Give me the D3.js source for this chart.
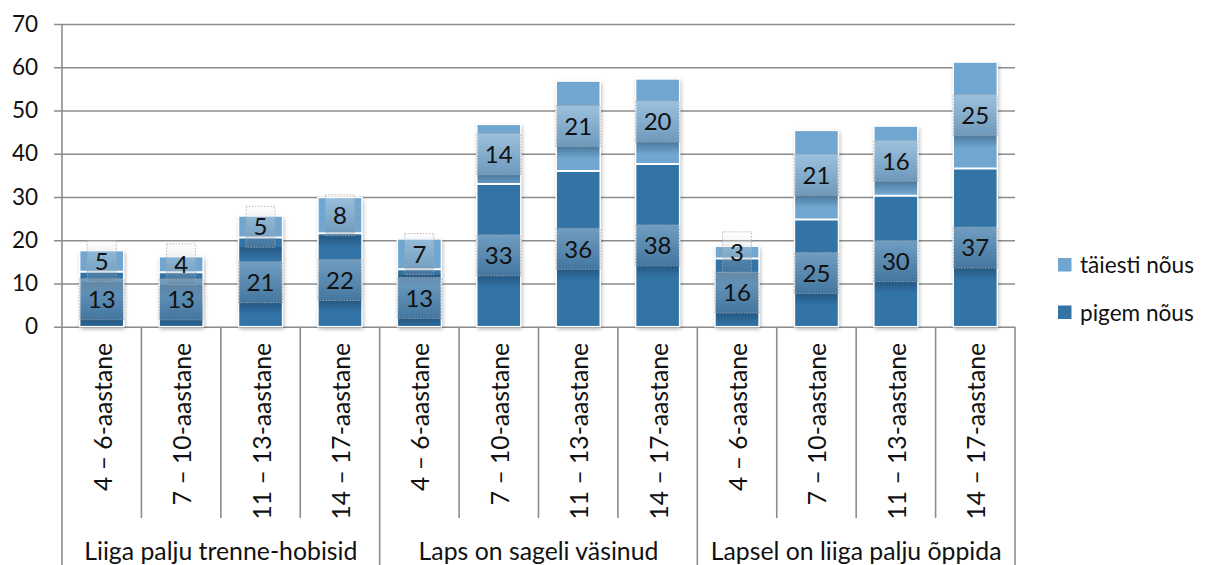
<!DOCTYPE html>
<html>
<head>
<meta charset="utf-8">
<script src="https://cdn.jsdelivr.net/npm/d3@7"></script>
<style>
  body { margin: 0; background: #fff; }
  svg { display: block; font-family: Lato, "Open Sans", sans-serif; }
</style>
</head>
<body>
<svg id="chart" width="1208" height="565"></svg>
<script>
const groups = ["Liiga palju trenne-hobisid", "Laps on sageli väsinud", "Lapsel on liiga palju õppida"];
const ages = ["4 – 6-aastane", "7 – 10-aastane", "11 – 13-aastane", "14 – 17-aastane"];
const pigem = [12.7, 12.6, 20.6, 21.6, 13.3, 33.0, 36.0, 37.6, 15.8, 24.8, 30.3, 36.6];
const taiesti = [4.9, 3.6, 5.0, 8.3, 7.0, 13.8, 20.8, 19.7, 2.8, 20.6, 16.1, 24.6];
const seriesNames = ["täiesti nõus", "pigem nõus"];
const yTicks = [0, 10, 20, 30, 40, 50, 60, 70];

const colDark = "#3374a7";
const colLight = "#70a6cf";

const svg = d3.select("#chart");
const defs = svg.append("defs");
const f = defs.append("filter").attr("id", "shadow").attr("x", "-20%").attr("y", "-20%").attr("width", "140%").attr("height", "140%");
f.append("feDropShadow").attr("dx", 1).attr("dy", 2).attr("stdDeviation", 2.2).attr("flood-color", "#000").attr("flood-opacity", 0.35);
const g1 = defs.append("linearGradient").attr("id", "shade").attr("x1", 0).attr("y1", 0).attr("x2", 0).attr("y2", 1);
g1.append("stop").attr("offset", "0%").attr("stop-color", "#0a2540").attr("stop-opacity", 0.35);
g1.append("stop").attr("offset", "100%").attr("stop-color", "#0a2540").attr("stop-opacity", 0);
const g2 = defs.append("linearGradient").attr("id", "boxfill").attr("x1", 0).attr("y1", 0).attr("x2", 0).attr("y2", 1);
g2.append("stop").attr("offset", "0%").attr("stop-color", "#ffffff").attr("stop-opacity", 0.3);
g2.append("stop").attr("offset", "100%").attr("stop-color", "#6a7a8c").attr("stop-opacity", 0.3);

const x0 = 62, x1 = 1015, yTop = 24, yBase = 326.7;
const pad = 0.445;
const n = pigem.length;
const x = d3.scaleBand().domain(d3.range(n)).range([x0, x1]).paddingInner(pad).paddingOuter(pad / 2);
const y = d3.scaleLinear().domain([0, 70]).range([yBase, yTop]);
const step = x.step();

// grid + y axis labels
const yAxis = d3.axisLeft(y).tickValues(yTicks).tickSize(-(x1 - 54)).tickPadding(16);
const ya = svg.append("g").attr("transform", "translate(54,0)").call(yAxis);
ya.select(".domain").remove();
ya.selectAll(".tick line").attr("stroke", "#8c8c8c").attr("stroke-width", 1.6);
ya.selectAll(".tick text").attr("font-size", 22.5).attr("fill", "#111").attr("font-family", "Lato, sans-serif");

// vertical axis line
svg.append("line").attr("x1", x0).attr("x2", x0).attr("y1", yTop).attr("y2", yBase)
  .attr("stroke", "#8c8c8c").attr("stroke-width", 1.6);

// category boundaries
d3.range(n + 1).forEach(i => {
  const bx = x.range()[0] + i * step;
  svg.append("line").attr("x1", bx).attr("x2", bx).attr("y1", yBase)
    .attr("y2", i % 4 === 0 ? 565 : 518)
    .attr("stroke", "#8c8c8c").attr("stroke-width", 1.6);
});

// bars
const bw = x.bandwidth();
const barG = svg.append("g");
d3.range(n).forEach(i => {
  const bx = x(i);
  const g = barG.append("g");
  const clipId = "clip" + i;
  defs.append("clipPath").attr("id", clipId).append("rect")
    .attr("x", bx).attr("y", y(pigem[i] + taiesti[i])).attr("width", bw).attr("height", y(0) - y(pigem[i] + taiesti[i]));
  g.append("rect").attr("x", bx).attr("y", y(pigem[i] + taiesti[i])).attr("width", bw)
    .attr("height", y(0) - y(pigem[i] + taiesti[i])).attr("fill", "#fff").attr("filter", "url(#shadow)");
  g.append("rect").attr("x", bx).attr("y", y(pigem[i])).attr("width", bw)
    .attr("height", y(0) - y(pigem[i])).attr("fill", colDark);
  g.append("rect").attr("x", bx).attr("y", y(pigem[i] + taiesti[i])).attr("width", bw)
    .attr("height", y(pigem[i]) - y(pigem[i] + taiesti[i])).attr("fill", colLight);
  // shades under labels
  [[0, pigem[i]], [pigem[i], pigem[i] + taiesti[i]]].forEach(([a, b]) => {
    const cy = (y(a) + y(b)) / 2;
    g.append("rect").attr("x", bx).attr("y", cy + 20.5).attr("width", bw).attr("height", 12)
      .attr("fill", "url(#shade)").attr("clip-path", "url(#" + clipId + ")");
  });
  // white outlines
  g.append("rect").attr("x", bx).attr("y", y(pigem[i] + taiesti[i])).attr("width", bw)
    .attr("height", y(0) - y(pigem[i] + taiesti[i])).attr("fill", "none").attr("stroke", "#fff").attr("stroke-width", 1.5);
  g.append("line").attr("x1", bx).attr("x2", bx + bw).attr("y1", y(pigem[i])).attr("y2", y(pigem[i]))
    .attr("stroke", "#fff").attr("stroke-width", 2);
});

// data labels
const labG = svg.append("g");
d3.range(n).forEach(i => {
  const cx = x(i) + bw / 2;
  [[0, pigem[i]], [pigem[i], pigem[i] + taiesti[i]]].forEach(([a, b]) => {
    const v = Math.round(b - a);
    const cy = (y(a) + y(b)) / 2;
    const w = String(v).length > 1 ? bw : 29;
    labG.append("rect").attr("x", cx - w / 2).attr("y", cy - 20.5).attr("width", w).attr("height", 41)
      .attr("fill", "url(#boxfill)").attr("stroke", "#a8a8a8").attr("stroke-width", 0.8)
      .attr("stroke-dasharray", "1.5,1.5");
    labG.append("text").attr("x", cx).attr("y", cy).attr("dy", "0.36em").attr("text-anchor", "middle")
      .attr("font-size", 24).attr("fill", "#111").text(v);
  });
});

// category labels
d3.range(n).forEach(i => {
  const cx = x(i) + bw / 2;
  svg.append("text").attr("transform", `translate(${cx + 10},343) rotate(-90)`)
    .attr("text-anchor", "end").attr("font-size", 24.7).attr("fill", "#111").text(ages[i % 4]);
});

// group labels
groups.forEach((gname, gi) => {
  const cx = x.range()[0] + (gi * 4 + 2) * step;
  svg.append("text").attr("x", cx).attr("y", 560).attr("text-anchor", "middle")
    .attr("font-size", 24.8).attr("fill", "#111").text(gname);
});

// legend
const legColors = [colLight, colDark];
seriesNames.forEach((s, i) => {
  const ly = 265 + i * 47.5;
  svg.append("rect").attr("x", 1058).attr("y", ly - 7).attr("width", 13.5).attr("height", 13.5).attr("fill", legColors[i]);
  svg.append("text").attr("x", 1080).attr("y", ly).attr("dy", "0.36em").attr("font-size", 22.6).attr("fill", "#111").text(s);
});
</script>
</body>
</html>
